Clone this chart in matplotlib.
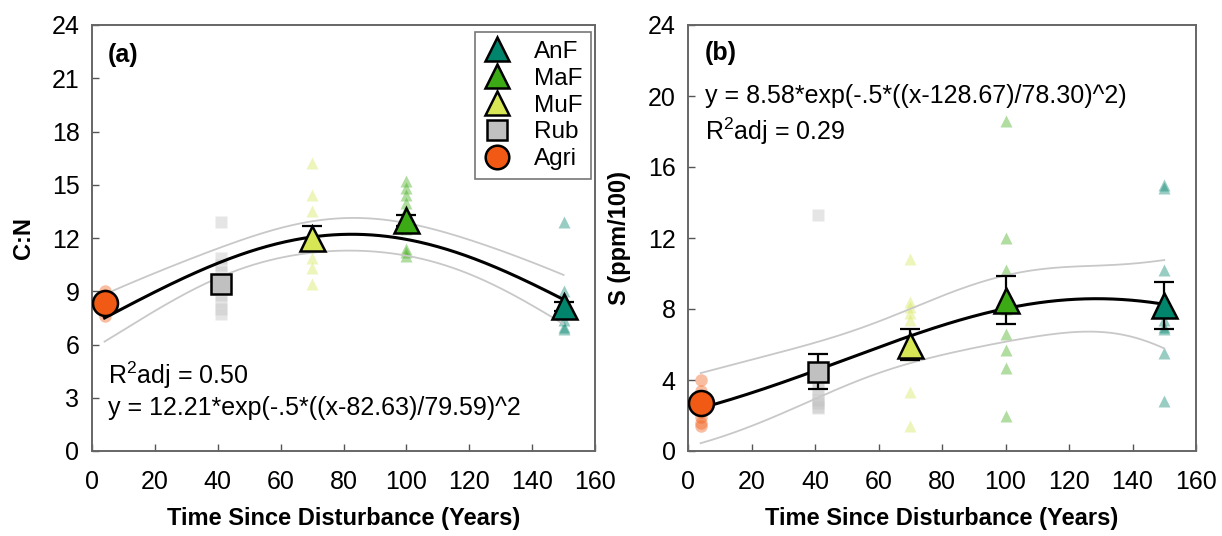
import numpy as np
import matplotlib.pyplot as plt
from matplotlib.lines import Line2D

plt.rcParams['font.family'] = 'Liberation Sans'
plt.rcParams['mathtext.fontset'] = 'custom'
plt.rcParams['mathtext.rm'] = 'Liberation Sans'
plt.rcParams['mathtext.it'] = 'Liberation Sans:italic'

groups = ['Agri', 'Rub', 'MuF', 'MaF', 'AnF']
ages = [4, 41, 70, 100, 150]
legend_order = ['AnF', 'MaF', 'MuF', 'Rub', 'Agri']
colors = {'AnF': '#00846c', 'MaF': '#3caa14', 'MuF': '#d6e655',
          'Rub': '#c0c0c0', 'Agri': '#f05a14'}
markers = {'AnF': '^', 'MaF': '^', 'MuF': '^', 'Rub': 's', 'Agri': 'o'}

# C:N, individual plots
cn_agri = [7.6, 7.9, 8.2, 8.5, 8.8, 9.0]
cn_rub = [12.9, 10.9, 10.5, 10.1, 9.7, 9.2, 8.8, 8.4, 8.0, 7.7]
cn_muf = [16.2, 14.4, 13.5, 12.2, 11.6, 10.9, 10.3, 9.4]
cn_maf = [15.2, 14.8, 14.4, 14.0, 13.6, 12.5, 11.4, 11.2, 11.0]
cn_anf = [12.9, 9.0, 8.6, 7.8, 7.4, 7.0, 6.9]
cn_mean = [8.35, 9.4, 12.0, 13.0, 8.15]
cn_se = [0.2, 0.4, 0.65, 0.3, 0.25]
cn_fit = (12.21, 82.63, 79.59)

# S (ppm/100), individual plots
s_agri = [4.0, 3.4, 3.0, 2.6, 2.2, 1.9, 1.6, 1.4]
s_rub = [13.3, 3.9, 3.5, 3.1, 2.9, 2.7, 2.5, 2.4]
s_muf = [10.8, 8.4, 8.1, 7.8, 7.4, 6.0, 5.4, 3.3, 1.4]
s_maf = [18.6, 12.0, 10.2, 8.8, 8.0, 6.6, 5.7, 4.7, 2.0]
s_anf = [15.0, 14.8, 10.2, 7.4, 7.0, 6.9, 5.5, 2.8]
s_mean = [2.72, 4.47, 6.0, 8.5, 8.2]
s_se = [0.3, 1.0, 0.85, 1.35, 1.3]
s_fit = (8.58, 128.67, 78.30)


def gauss(x, a, x0, w):
    return a * np.exp(-0.5 * ((x - x0) / w) ** 2)


def gauss_jac(x, a, x0, w):
    e = np.exp(-0.5 * ((x - x0) / w) ** 2)
    return np.column_stack([e, a * e * (x - x0) / w ** 2,
                            a * e * (x - x0) ** 2 / w ** 3])


def conf_band(params, xs, ys, xgrid, t=2.02):
    # 95% confidence band of the fitted curve (delta method)
    J = gauss_jac(xs, *params)
    resid = ys - gauss(xs, *params)
    mse = np.sum(resid ** 2) / (len(xs) - 3)
    cov = mse * np.linalg.inv(J.T @ J)
    G = gauss_jac(xgrid, *params)
    se = np.sqrt(np.einsum('ij,jk,ik->i', G, cov, G))
    yfit = gauss(xgrid, *params)
    return yfit - t * se, yfit + t * se


def draw_panel(ax, raw, means, ses, fit, yticks):
    xs, ys = [], []
    for g, age, vals in zip(groups, ages, raw):
        ax.plot([age] * len(vals), vals, linestyle='none', marker=markers[g],
                ms=9 if g != 'Rub' else 8, color=colors[g], alpha=0.4,
                mec='none', zorder=2)
        xs += [age] * len(vals)
        ys += vals
    xs, ys = np.array(xs, float), np.array(ys, float)

    xgrid = np.linspace(min(ages), max(ages), 300)
    lo, hi = conf_band(fit, xs, ys, xgrid)
    ax.plot(xgrid, lo, color='#c8c8c8', lw=1.3, zorder=3)
    ax.plot(xgrid, hi, color='#c8c8c8', lw=1.3, zorder=3)
    ax.plot(xgrid, gauss(xgrid, *fit), color='black', lw=2.2, zorder=4)

    ax.errorbar(ages, means, yerr=ses, fmt='none', ecolor='black',
                elinewidth=1.6, capsize=7, capthick=1.6, zorder=5)
    for g, age, m in zip(groups, ages, means):
        ax.plot(age, m, linestyle='none', marker=markers[g],
                ms=15 if g == 'Rub' else 18, mfc=colors[g], mec='black',
                mew=1.8, zorder=6)

    ax.set_xlim(0, 160)
    ax.set_ylim(0, 24)
    ax.set_xticks(range(0, 161, 20))
    ax.set_yticks(yticks)
    ax.tick_params(direction='in', length=5, width=1, labelsize=18,
                   color='#555555', top=False, right=False)
    ax.tick_params(axis='x', pad=14)
    ax.tick_params(axis='y', pad=9)
    for sp in ax.spines.values():
        sp.set_color('#666666')
        sp.set_linewidth(1.4)
    ax.set_xlabel('Time Since Disturbance (Years)', fontsize=17,
                  fontweight='bold', labelpad=9)


fig = plt.figure(figsize=(12.22, 5.36), dpi=100)
ax1 = fig.add_axes([92 / 1222, 85 / 536, 503 / 1222, 426 / 536])
ax2 = fig.add_axes([688 / 1222, 85 / 536, 508 / 1222, 426 / 536])

draw_panel(ax1, [cn_agri, cn_rub, cn_muf, cn_maf, cn_anf], cn_mean, cn_se,
           cn_fit, range(0, 25, 3))
ax1.set_ylabel('C:N', fontsize=17, fontweight='bold', labelpad=12)
ax1.text(0.032, 0.93, '(a)', transform=ax1.transAxes, fontsize=18,
         fontweight='bold', va='center')
ax1.text(0.032, 0.178, 'R$^2$adj = 0.50', transform=ax1.transAxes,
         fontsize=18, va='center')
ax1.text(0.032, 0.10, 'y = 12.21*exp(-.5*((x-82.63)/79.59)^2',
         transform=ax1.transAxes, fontsize=18, va='center')

handles = [Line2D([], [], linestyle='none', marker=markers[g],
                  ms=17 if g != 'Rub' else 14, mfc=colors[g], mec='black',
                  mew=1.8) for g in legend_order]
leg = ax1.legend(handles, legend_order, loc='upper right',
                 bbox_to_anchor=(0.993, 0.983), borderaxespad=0, fontsize=17.5,
                 frameon=True, fancybox=False, labelspacing=0.2,
                 handletextpad=1.0, borderpad=0.35, handlelength=1.1)
leg.get_frame().set_edgecolor('#555555')
leg.get_frame().set_linewidth(1.2)

draw_panel(ax2, [s_agri, s_rub, s_muf, s_maf, s_anf], s_mean, s_se,
           s_fit, range(0, 25, 4))
ax2.set_ylabel('S (ppm/100)', fontsize=17, fontweight='bold', labelpad=12)
ax2.text(0.033, 0.935, '(b)', transform=ax2.transAxes, fontsize=18,
         fontweight='bold', va='center')
ax2.text(0.033, 0.833, 'y = 8.58*exp(-.5*((x-128.67)/78.30)^2)',
         transform=ax2.transAxes, fontsize=18, va='center')
ax2.text(0.033, 0.75, 'R$^2$adj = 0.29', transform=ax2.transAxes,
         fontsize=18, va='center')

fig.savefig('out.png', dpi=100)
